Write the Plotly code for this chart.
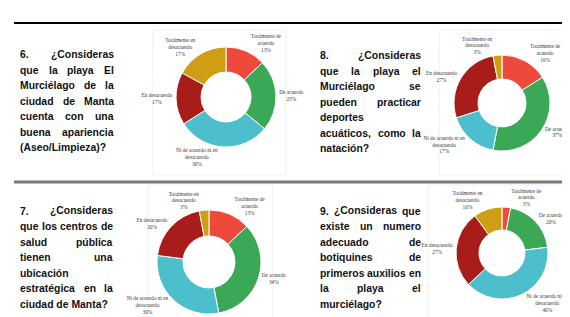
import plotly.graph_objects as go

W, H = 570, 317

categories = ["Totalmente de acuerdo", "De acuerdo", "Ni de acuerdo ni en desacuerdo",
              "En desacuerdo", "Totalmente en desacuerdo"]
label_text = ["Totalmente de<br>acuerdo", "De acuerdo", "Ni de acuerdo ni en<br>desacuerdo",
              "En desacuerdo", "Totalmente en<br>desacuerdo"]
colors = ["#EE4A3C", "#3BA856", "#4DBECB", "#A81D1A", "#CF9E12"]

q6_values = [13, 23, 30, 17, 17]
q8_values = [16, 37, 17, 27, 3]
q7_values = [13, 34, 30, 20, 3]
q9_values = [3, 20, 40, 27, 10]

q6_lines = ["6. ¿Consideras", "que la playa El", "Murciélago de la", "ciudad de Manta",
            "cuenta con una", "buena apariencia", "(Aseo/Limpieza)?"]
q8_lines = ["8. ¿Consideras", "que la playa el", "Murciélago se", "pueden practicar",
            "deportes", "acuáticos, como la", "natación?"]
q7_lines = ["7. ¿Consideras", "que los centros de", "salud pública", "tienen una",
            "ubicación", "estratégica en la", "ciudad de Manta?"]
q9_lines = ["9. ¿Consideras que", "existe un numero", "adecuado de", "botiquines de",
            "primeros auxilios en", "la playa el", "murciélago?"]

fig = go.Figure()

# donut placement in pixels: center x, center y (from top), diameter
donuts = [
    (q6_values, 218, 89, 100),
    (q8_values, 494, 95, 96),
    (q7_values, 201, 254, 104),
    (q9_values, 494, 245, 92),
]
for vals, cx, cy, d in donuts:
    fig.add_trace(go.Pie(
        labels=categories, values=vals, text=label_text,
        sort=False, direction="clockwise", rotation=0, hole=0.5,
        marker=dict(colors=colors, line=dict(color="white", width=1)),
        textposition="outside",
        texttemplate="%{text}<br>%{value}%",
        textfont=dict(family="Liberation Serif", size=5.3, color="#3a3a3a"),
        showlegend=False, hoverinfo="label+percent",
        domain=dict(x=[(cx - d / 2) / W, (cx + d / 2) / W],
                    y=[1 - (cy + d / 2) / H, 1 - (cy - d / 2) / H]),
    ))

# Liberation Sans Bold (Arial-metric) character widths, per 1000 em
cw = {}
for ch in "acekvxyáé": cw[ch] = 556
for ch in "bdghnopquúó": cw[ch] = 611
for ch in "ijlí": cw[ch] = 278
cw.update({"t": 333, "f": 333, "r": 389, "s": 556, "z": 500, "m": 889, "w": 778,
           " ": 278, ".": 278, ",": 278, "¿": 611, "?": 611, "(": 333, ")": 333,
           "/": 278, "C": 722, "E": 667, "M": 833, "A": 722, "L": 611})
for ch in "0123456789": cw[ch] = 556

FONT = "Liberation Sans, Arial, sans-serif"
FS = 10.4


def wwidth(s):
    return sum(cw.get(c, 556) for c in s) * FS / 1000.0


def ann(x, y, t, anchor):
    fig.add_annotation(x=x / W, y=y, xref="paper", yref="paper", text=t,
                       showarrow=False, xanchor=anchor, yanchor="middle",
                       borderpad=0, borderwidth=0,
                       font=dict(family=FONT, size=FS, color="#111", weight="bold"))


def add_block(lines, x0, x1, y0, dy):
    for i, line in enumerate(lines):
        y = 1 - (y0 + i * dy) / H
        words = line.split(" ")
        last = i == len(lines) - 1
        if last or len(words) == 1:
            ann(x0, y, line, "left")
            continue
        widths = [wwidth(w) for w in words]
        gap = (x1 - x0 - sum(widths)) / (len(words) - 1)
        xp = x0
        for j, w in enumerate(words):
            if j == len(words) - 1:
                ann(x1, y, w, "right")
            else:
                ann(xp, y, w, "left")
            xp += widths[j] + gap


add_block(q6_lines, 12, 106, 47, 15.4)
add_block(q8_lines, 312, 413, 48, 15.4)
add_block(q7_lines, 12, 105, 203, 15.5)
add_block(q9_lines, 312, 413, 203, 15.5)

shapes = [
    dict(type="line", x0=6 / W, x1=1, y0=1 - 15 / H, y1=1 - 15 / H,
         xref="paper", yref="paper", line=dict(color="#000", width=2)),
    dict(type="line", x0=6 / W, x1=1, y0=1 - 174 / H, y1=1 - 174 / H,
         xref="paper", yref="paper", line=dict(color="#7a7a7a", width=3)),
]
for bx0, bx1, by0, by1 in [(145, 278, 22, 167), (431, 558, 22, 167),
                           (140, 265, 177, 318), (420, 558, 177, 318)]:
    shapes.append(dict(type="rect", x0=bx0 / W, x1=bx1 / W, y0=1 - by1 / H, y1=1 - by0 / H,
                       xref="paper", yref="paper", line=dict(color="#efefef", width=1),
                       layer="below"))

fig.update_layout(width=W, height=H, margin=dict(l=0, r=0, t=0, b=0),
                  paper_bgcolor="white", plot_bgcolor="white", shapes=shapes)

fig.write_html("out.html")
